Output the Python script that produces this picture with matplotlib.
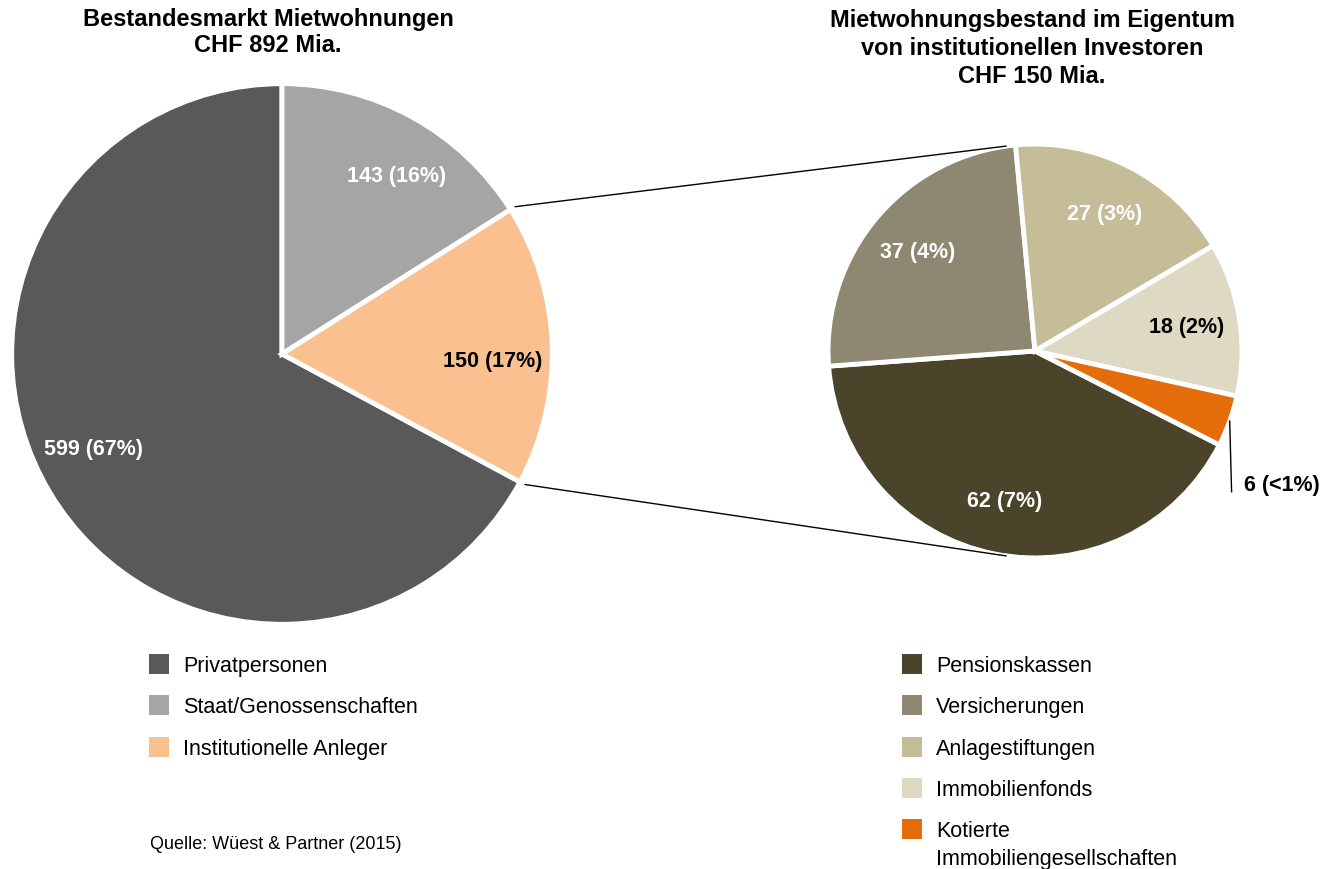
import numpy as np
import matplotlib.pyplot as plt
from matplotlib.patches import Rectangle, ConnectionPatch

plt.rcParams['font.family'] = ['Liberation Sans', 'DejaVu Sans']

W, H = 1335, 869

# Bestandesmarkt (CHF Mia.)
market_labels = ['Privatpersonen', 'Staat/Genossenschaften', 'Institutionelle Anleger']
market_values = [599, 143, 150]
market_colors = ['#595959', '#A5A5A5', '#FAC090']
market_text_colors = ['white', 'white', 'black']

# Institutionelle Investoren (CHF Mia.)
inst_labels = ['Pensionskassen', 'Versicherungen', 'Anlagestiftungen',
               'Immobilienfonds', 'Kotierte\nImmobiliengesellschaften']
inst_values = [62, 37, 27, 18, 6]
inst_colors = ['#4A452A', '#8E8873', '#C4BD97', '#DDD9C3', '#E46C0A']
inst_text_colors = ['white', 'white', 'white', 'black', 'black']

total = sum(market_values)


def px_rect(left, top, width, height):
    return [left / W, 1 - (top + height) / H, width / W, height / H]


def fx(x):
    return x / W


def fy(y):
    return 1 - y / H


def pct_text(v):
    p = v / total * 100
    if p < 1:
        return f"{v} (<1%)"
    return f"{v} ({p:.0f}%)"


fig = plt.figure(figsize=(W / 100, H / 100), dpi=100)

wedge_style = dict(edgecolor='white', linewidth=3.5)
label_size = 15.5

# left pie
ax1 = fig.add_axes(px_rect(9, 81, 546, 546))
w1, _ = ax1.pie(market_values, colors=market_colors,
                startangle=90 + 360 * market_values[0] / total,
                counterclock=False, wedgeprops=wedge_style)
ax1.set_xlim(-1.01, 1.01)
ax1.set_ylim(-1.01, 1.01)
for w, v, tc in zip(w1, market_values, market_text_colors):
    mid = np.deg2rad((w.theta1 + w.theta2) / 2 - 4)
    ax1.text(0.78 * np.cos(mid), 0.78 * np.sin(mid), pct_text(v),
             ha='center', va='center', color=tc, fontsize=label_size,
             fontweight='bold')

# right pie
ax2 = fig.add_axes(px_rect(826, 142, 418, 418))
w2, _ = ax2.pie(inst_values, colors=inst_colors, startangle=-27,
                counterclock=False, wedgeprops=wedge_style)
ax2.set_xlim(-1.01, 1.01)
ax2.set_ylim(-1.01, 1.01)
for w, v, tc in zip(w2, inst_values, inst_text_colors):
    mid = np.deg2rad((w.theta1 + w.theta2) / 2)
    if v / total < 0.01:
        ax2.plot([np.cos(mid), 0.95], [np.sin(mid), -0.68], color='black',
                 lw=1, clip_on=False)
        ax2.text(1.01, -0.65, pct_text(v), ha='left', va='center',
                 color=tc, fontsize=label_size, fontweight='bold')
    else:
        ax2.text(0.74 * np.cos(mid), 0.74 * np.sin(mid), pct_text(v),
                 ha='center', va='center', color=tc, fontsize=label_size,
                 fontweight='bold')

# connector lines between the pies
inst_wedge = w1[2]
for ang_left, ang_right in [(inst_wedge.theta2, 98), (inst_wedge.theta1, -98)]:
    a, b = np.deg2rad(ang_left), np.deg2rad(ang_right)
    con = ConnectionPatch(xyA=(1.02 * np.cos(a), 1.02 * np.sin(a)),
                          coordsA=ax1.transData,
                          xyB=(np.cos(b), np.sin(b)), coordsB=ax2.transData,
                          color='black', lw=1)
    fig.add_artist(con)

# titles
fig.text(fx(268), fy(8), 'Bestandesmarkt Mietwohnungen\nCHF 892 Mia.',
         ha='center', va='top', fontsize=17, fontweight='bold',
         linespacing=1.15)
fig.text(fx(1032), fy(9),
         'Mietwohnungsbestand im Eigentum\nvon institutionellen Investoren\nCHF 150 Mia.',
         ha='center', va='top', fontsize=17, fontweight='bold',
         linespacing=1.28)


# legends
def draw_legend(x, y0, labels, colors):
    for i, (lab, col) in enumerate(zip(labels, colors)):
        yc = y0 + i * 41.3
        fig.patches.append(Rectangle((fx(x), fy(yc + 10)), 20 / W, 20 / H,
                                     transform=fig.transFigure,
                                     facecolor=col, edgecolor='none'))
        fig.text(fx(x + 34), fy(yc - 8), lab, ha='left', va='top',
                 fontsize=15.5, linespacing=1.4)


draw_legend(149, 664, market_labels, market_colors)
draw_legend(902, 664, inst_labels, inst_colors)

fig.text(fx(150), fy(849), 'Quelle: Wüest & Partner (2015)', ha='left',
         va='baseline', fontsize=13)

fig.savefig('out.png', dpi=100)
